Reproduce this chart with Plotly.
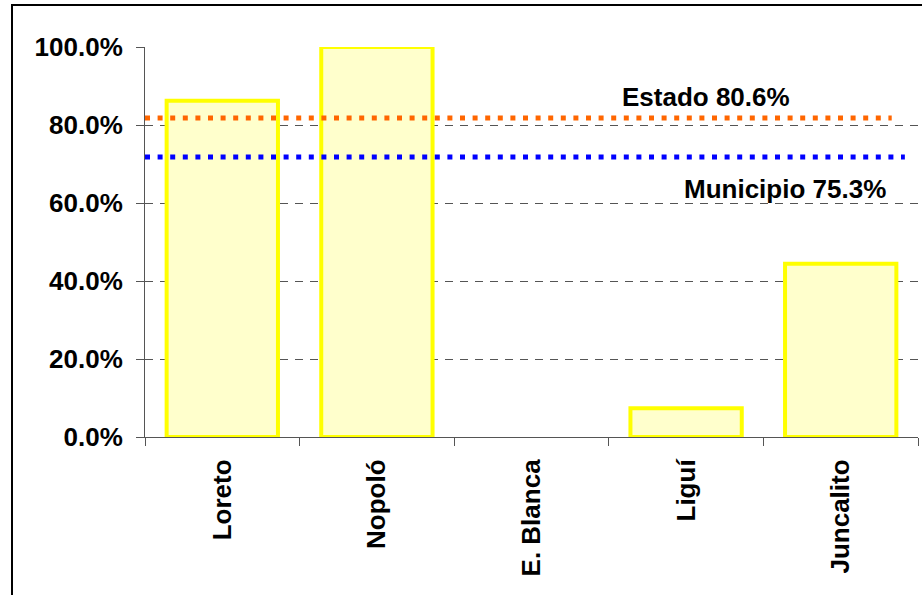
import plotly.graph_objects as go

categories = ["Loreto", "Nopoló", "E. Blanca", "Liguí", "Juncalito"]
values = [86.2, 100.0, 0.0, 7.4, 44.4]
y_ticks = [0, 20, 40, 60, 80, 100]
y_tick_labels = ["0.0%", "20.0%", "40.0%", "60.0%", "80.0%", "100.0%"]
estado_value = 81.8
municipio_value = 71.8
estado_label = "Estado 80.6%"
municipio_label = "Municipio 75.3%"

FONT = "Liberation Sans, Arial, sans-serif"
FS = 26

fig = go.Figure()
fig.add_trace(go.Bar(
    x=categories, y=values,
    marker=dict(color="#FFFFCC",
                line=dict(color="#FFFF00", width=[4 if v > 0 else 0 for v in values])),
    width=0.72,
))

fig.add_shape(type="line", xref="paper", yref="y", x0=0, x1=0.966,
              y0=estado_value, y1=estado_value,
              line=dict(color="#FF6600", width=5, dash="5px,7.6px"))
fig.add_shape(type="line", xref="paper", yref="y", x0=0, x1=0.983,
              y0=municipio_value, y1=municipio_value,
              line=dict(color="#0000FF", width=5, dash="5px,7.6px"))

fig.add_annotation(text=estado_label, xref="paper", yref="y", x=0.726, y=87.3,
                   showarrow=False, xanchor="center", yanchor="middle",
                   font=dict(family=FONT, size=FS, color="black", weight="bold"))
fig.add_annotation(text=municipio_label, xref="paper", yref="y", x=0.828, y=63.7,
                   showarrow=False, xanchor="center", yanchor="middle",
                   font=dict(family=FONT, size=FS, color="black", weight="bold"))

# outer chart frame (only top and left visible in the crop)
fig.add_shape(type="rect", xref="paper", yref="paper",
              x0=(12 - 145) / 773, x1=1.1, y0=-1.0, y1=1 + (47 - 5) / 390,
              line=dict(color="black", width=2), layer="below")

fig.update_layout(
    width=922, height=595,
    margin=dict(l=145, r=4, t=47, b=158),
    paper_bgcolor="white", plot_bgcolor="white",
    showlegend=False,
    bargap=0.28,
    xaxis=dict(
        showline=True, linecolor="#555555", linewidth=1,
        ticks="outside", tickson="boundaries", ticklen=8, tickcolor="#555555",
        tickangle=-90, showgrid=False, ticklabelstandoff=11,
        tickfont=dict(family=FONT, size=FS, color="black", weight="bold"),
    ),
    yaxis=dict(
        range=[0, 100], tickvals=y_ticks, ticktext=y_tick_labels,
        showline=True, linecolor="#555555", linewidth=1,
        ticks="outside", ticklen=8, tickcolor="#555555", ticklabelstandoff=8,
        showgrid=True, gridcolor="#555555", gridwidth=1, griddash="8px,7px",
        zeroline=False,
        tickfont=dict(family=FONT, size=FS, color="black", weight="bold"),
    ),
)

fig.write_html("out.html", config={"displayModeBar": False},
               post_script="document.body.style.margin='0';document.body.style.overflow='hidden';")
